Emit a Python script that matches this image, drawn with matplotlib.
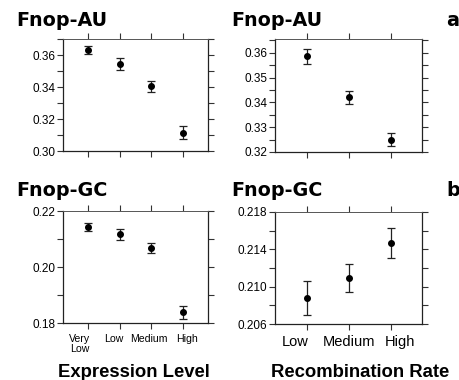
import matplotlib
matplotlib.use("Agg")
import matplotlib.pyplot as plt
from matplotlib.ticker import FixedLocator, FormatStrFormatter

plt.rcParams['font.family'] = ['Liberation Sans', 'DejaVu Sans']

expr_levels = ["Very\nLow", "Low", "Medium", "High"]
expr_au = [0.3633, 0.3544, 0.3404, 0.3115]
expr_au_err = [0.0024, 0.0037, 0.0034, 0.0040]
expr_gc = [0.2145, 0.2118, 0.2070, 0.1839]
expr_gc_err = [0.0014, 0.0020, 0.0018, 0.0023]

rec_levels = ["Low", "Medium", "High"]
rec_au = [0.3586, 0.3420, 0.3250]
rec_au_err = [0.0031, 0.0027, 0.0025]
rec_gc = [0.2088, 0.2109, 0.2147]
rec_gc_err = [0.00178, 0.0015, 0.0016]

au_expr_ticks = [0.30, 0.32, 0.34, 0.36]
au_rec_ticks = [0.32, 0.33, 0.34, 0.35, 0.36]
gc_expr_ticks = [0.18, 0.20, 0.22]
gc_rec_ticks = [0.206, 0.210, 0.214, 0.218]

# horizontal nudges (points) of the category labels, as typeset in the original
expr_label_shift = [-6, -4.5, -1.5, 3]
rec_label_shift = [-8, 0, 6.5]

fig = plt.figure(figsize=(4.6, 3.8), dpi=100)

axes_spec = [
    ([0.137, 0.6026, 0.315, 0.2947], expr_levels, expr_au, expr_au_err, (0.30, 0.37),
     au_expr_ticks, [0.31, 0.33, 0.35, 0.37], '%.2f', (0.2, 4.8), None),
    ([0.598, 0.600, 0.3196, 0.297], rec_levels, rec_au, rec_au_err, (0.32, 0.3655),
     au_rec_ticks, [0.325, 0.335, 0.345, 0.355, 0.365], '%.2f', (0.25, 3.75), None),
    ([0.137, 0.149, 0.315, 0.2947], expr_levels, expr_gc, expr_gc_err, (0.18, 0.22),
     gc_expr_ticks, [0.19, 0.21], '%.2f', (0.2, 4.8), expr_label_shift),
    ([0.598, 0.147, 0.3196, 0.2955], rec_levels, rec_gc, rec_gc_err, (0.206, 0.218),
     gc_rec_ticks, [0.208, 0.212, 0.216], '%.3f', (0.25, 3.75), rec_label_shift),
]

for i, (rect, labels, vals, errs, ylim, maj, mnr, fmt, xlim, shifts) in enumerate(axes_spec):
    ax = fig.add_axes(rect)
    xs = list(range(1, len(labels) + 1))
    ax.errorbar(xs, vals, yerr=errs, fmt='o', color='black', ms=4,
                ecolor='#222222', elinewidth=0.9, capsize=2.7, capthick=0.9)
    ax.set_xlim(*xlim)
    ax.set_ylim(*ylim)
    ax.yaxis.set_major_locator(FixedLocator(maj))
    ax.yaxis.set_minor_locator(FixedLocator(mnr))
    ax.yaxis.set_major_formatter(FormatStrFormatter(fmt))
    ax.set_xticks(xs)
    ax.set_xticklabels([])
    if shifts is not None:
        fs = 7.6 if i == 2 else 10.5
        for x, lab, s in zip(xs, labels, shifts):
            ax.annotate(lab, xy=(x, 0), xycoords=('data', 'axes fraction'),
                        xytext=(s, -8), textcoords='offset points',
                        ha='center', va='top', fontsize=fs, linespacing=0.95,
                        annotation_clip=False)
    ax.tick_params(axis='both', which='both', direction='out', top=True, right=True,
                   width=0.8, color='#333333')
    ax.tick_params(axis='both', which='major', length=4)
    ax.tick_params(axis='y', which='minor', length=4)
    ax.tick_params(axis='y', labelsize=8.5, pad=1.5)
    for sp in ax.spines.values():
        sp.set_linewidth(0.9)
        sp.set_color('#222222')
    ax.spines['top'].set_color('#555555')
    ax.spines['top'].set_linewidth(0.7)

title_kw = dict(fontsize=13.8, fontweight='bold', ha='left', va='baseline', family='DejaVu Sans')
fig.text(16/460, 1 - 26/380, "Fnop-AU", **title_kw)
fig.text(231/460, 1 - 26/380, "Fnop-AU", **title_kw)
fig.text(16/460, 1 - 196/380, "Fnop-GC", **title_kw)
fig.text(231/460, 1 - 196/380, "Fnop-GC", **title_kw)
fig.text(446/460, 1 - 26/380, "a", **title_kw)
fig.text(446/460, 1 - 196/380, "b", **title_kw)

fig.text(133.5/460, 1 - 377/380, "Expression Level", fontsize=13.3, fontweight='bold', ha='center', va='baseline')
fig.text(360/460, 1 - 377/380, "Recombination Rate", fontsize=13.3, fontweight='bold', ha='center', va='baseline')

fig.savefig("out.png", dpi=100)
